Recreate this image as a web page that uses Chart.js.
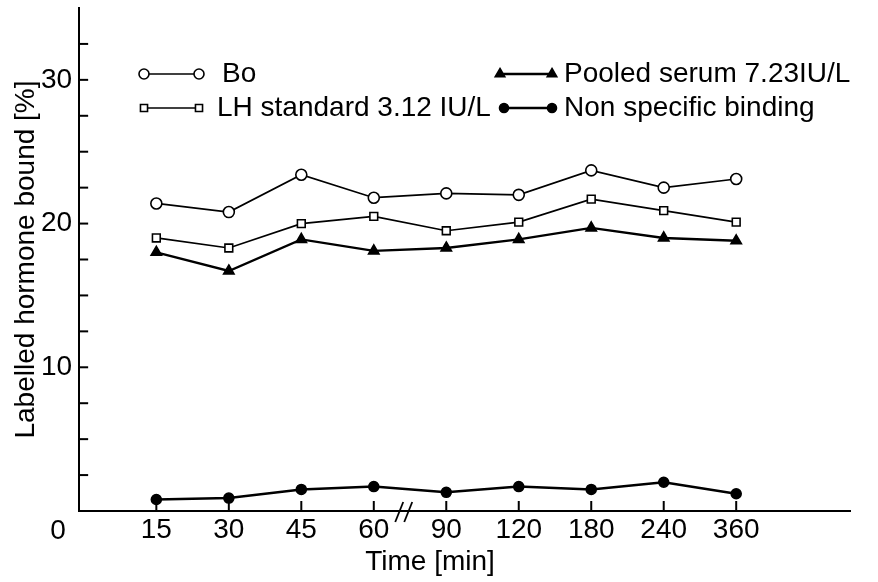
<!DOCTYPE html>
<html>
<head>
<meta charset="utf-8">
<script src="https://cdn.jsdelivr.net/npm/chart.js@4.4.1/dist/chart.umd.min.js"></script>
<style>
  html, body { margin: 0; padding: 0; background: #fff; }
  #marco { width: 878px; height: 582px; }
</style>
</head>
<body>
<div id="marco"><canvas id="grafico"></canvas></div>
<script>
// tiempos de incubacion (min) y porcentaje de hormona marcada unida
const tiempos = ['15', '30', '45', '60', '90', '120', '180', '240', '360'];
const bo = [21.4, 20.8, 23.4, 21.8, 22.1, 22.0, 23.7, 22.5, 23.1];
const estandarLH = [19.0, 18.3, 20.0, 20.5, 19.5, 20.1, 21.7, 20.9, 20.1];
const sueroPool = [18.0, 16.7, 18.9, 18.1, 18.3, 18.9, 19.7, 19.0, 18.8];
const noEspecifica = [0.8, 0.9, 1.5, 1.7, 1.3, 1.7, 1.5, 2.0, 1.2];
const marcasY = [10, 20, 30];
const origenX = '0';
const tituloX = 'Time [min]';

const fuente = 'Liberation Sans';

function puntos(valores) {
  return valores.map((v, i) => ({ x: i + 1, y: v }));
}

function serie(nombre, valores, estilo, relleno, radio, grosor) {
  return {
    label: nombre,
    data: puntos(valores),
    borderColor: '#000',
    borderWidth: grosor,
    backgroundColor: relleno,
    pointStyle: estilo,
    pointRadius: radio,
    pointBorderWidth: 1.6,
    pointBorderColor: '#000',
    pointBackgroundColor: relleno,
    tension: 0
  };
}

// marcas hacia dentro, el "0" del origen, el corte //, titulo X y la leyenda dentro del grafico
const extras = {
  id: 'extras',
  afterDraw(chart) {
    const ctx = chart.ctx;
    const a = chart.chartArea;
    const sx = chart.scales.x;
    const sy = chart.scales.y;
    ctx.save();
    ctx.strokeStyle = '#000';
    ctx.lineWidth = 2;
    sy.ticks.forEach(t => {
      if (t.value <= 0 || t.value >= 35) return;
      const y = sy.getPixelForValue(t.value);
      ctx.beginPath();
      ctx.moveTo(a.left, y);
      ctx.lineTo(a.left + 9, y);
      ctx.stroke();
    });
    sx.ticks.forEach(t => {
      const x = sx.getPixelForValue(t.value);
      ctx.beginPath();
      ctx.moveTo(x, a.bottom);
      ctx.lineTo(x, a.bottom - 10);
      ctx.stroke();
    });
    // corte del eje entre 60 y 90
    const xc = sx.getPixelForValue(4.42);
    ctx.lineWidth = 1.8;
    [-5, 4].forEach(d => {
      ctx.beginPath();
      ctx.moveTo(xc + d - 4, a.bottom + 11);
      ctx.lineTo(xc + d + 4, a.bottom - 9);
      ctx.stroke();
    });
    ctx.fillStyle = '#000';
    ctx.font = '28px "' + fuente + '"';
    ctx.textAlign = 'center';
    ctx.textBaseline = 'middle';
    ctx.fillText(origenX, 58, 531);
    ctx.fillText(tituloX, 430, 562);

    // leyenda
    const pos = [
      { x1: 144, x2: 199, y: 74, xt: 222 },
      { x1: 144, x2: 199, y: 108, xt: 217 },
      { x1: 500, x2: 552, y: 74, xt: 564 },
      { x1: 504, x2: 552, y: 108, xt: 564 }
    ];
    ctx.font = '28px "' + fuente + '"';
    ctx.textAlign = 'left';
    chart.data.datasets.forEach((ds, i) => {
      const p = pos[i];
      ctx.strokeStyle = '#000';
      ctx.lineWidth = ds.borderWidth;
      ctx.beginPath();
      ctx.moveTo(p.x1, p.y);
      ctx.lineTo(p.x2, p.y);
      ctx.stroke();
      ctx.lineWidth = ds.pointBorderWidth;
      ctx.fillStyle = ds.pointBackgroundColor;
      [p.x1, p.x2].forEach(x => {
        Chart.helpers.drawPoint(ctx, {
          pointStyle: ds.pointStyle, radius: ds.pointRadius - 0.5, rotation: 0,
          borderWidth: ds.pointBorderWidth
        }, x, p.y);
      });
      ctx.fillStyle = '#000';
      ctx.fillText(ds.label, p.xt, p.y);
    });
    ctx.restore();
  }
};

new Chart(document.getElementById('grafico').getContext('2d'), {
  type: 'line',
  data: {
    datasets: [
      serie('Bo', bo, 'circle', '#fff', 5.5, 1.7),
      serie('LH standard 3.12 IU/L', estandarLH, 'rect', '#fff', 5.5, 1.7),
      serie('Pooled serum 7.23IU/L', sueroPool, 'triangle', '#000', 6, 2.4),
      serie('Non specific binding', noEspecifica, 'circle', '#000', 5, 2.4)
    ]
  },
  options: {
    responsive: true,
    maintainAspectRatio: false,
    animation: false,
    layout: { padding: { left: 12, right: 28, top: 8, bottom: 33 } },
    plugins: {
      legend: { display: false },
      tooltip: { enabled: false }
    },
    scales: {
      x: {
        type: 'linear',
        min: -0.065,
        max: 10.57,
        afterBuildTicks: scale => {
          scale.ticks = tiempos.map((t, i) => ({ value: i + 1 }));
        },
        ticks: {
          callback: v => tiempos[v - 1],
          autoSkip: false,
          maxRotation: 0,
          padding: 5,
          color: '#000',
          font: { family: fuente, size: 28, lineHeight: 1 }
        },
        grid: { drawOnChartArea: false, drawTicks: false },
        border: { color: '#000', width: 2 }
      },
      y: {
        min: 0,
        max: 35,
        afterBuildTicks: scale => {
          // sin marca en el extremo superior del eje
          scale.ticks = scale.ticks.filter(t => t.value < 35);
        },
        afterFit: scale => {
          scale.paddingTop = 0;
        },
        ticks: {
          stepSize: 2.5,
          autoSkip: false,
          callback: v => (marcasY.includes(v) ? String(v) : ''),
          padding: 7,
          color: '#000',
          font: { family: fuente, size: 28, lineHeight: 1 }
        },
        grid: { drawOnChartArea: false, drawTicks: false },
        border: { color: '#000', width: 2 },
        title: {
          display: true,
          text: 'Labelled hormone bound [%]',
          color: '#000',
          padding: { top: 0, bottom: -6 },
          font: { family: fuente, size: 28, lineHeight: 1 }
        }
      }
    }
  },
  plugins: [extras]
});
</script>
</body>
</html>
